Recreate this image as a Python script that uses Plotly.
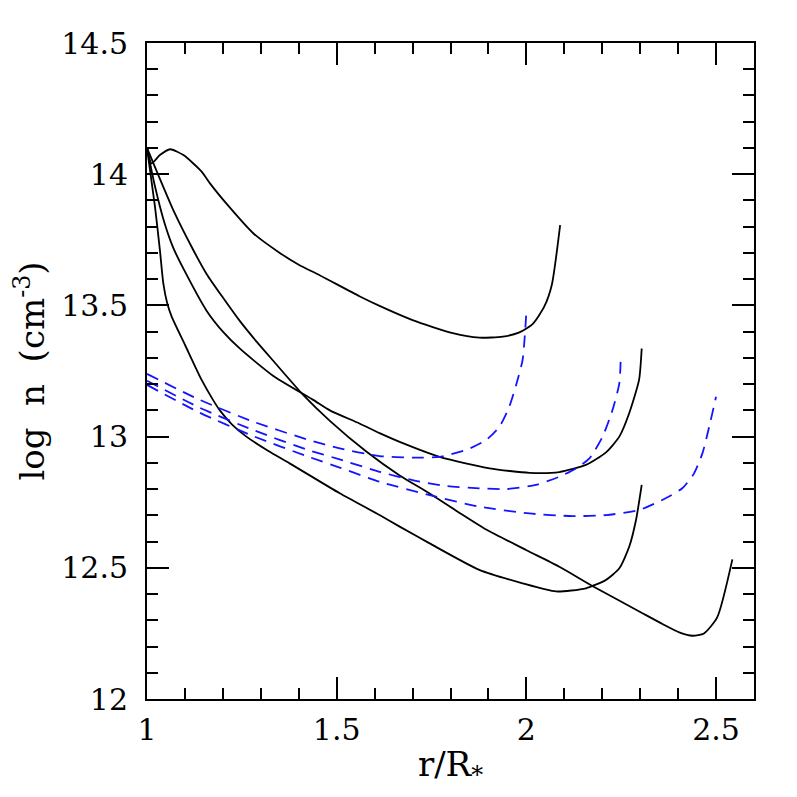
import plotly.graph_objects as go

# solid (black) density profiles
a_x = [1.0, 1.012, 1.034, 1.061, 1.096, 1.144, 1.166, 1.214, 1.28, 1.35, 1.40, 1.455, 1.56, 1.613, 1.70,
       1.806, 1.876, 1.938, 1.98, 2.017, 2.047, 2.067, 2.089]
a_y = [14.10, 14.041, 14.073, 14.095, 14.073, 14.01, 13.965, 13.88, 13.775, 13.70, 13.655, 13.615, 13.535,
       13.498, 13.444, 13.394, 13.377, 13.381, 13.396, 13.43, 13.495, 13.578, 13.806]

b_x = [1.0, 1.02, 1.047, 1.069, 1.096, 1.157, 1.20, 1.245, 1.332, 1.438, 1.482, 1.56, 1.613, 1.666, 1.771,
       1.903, 2.008, 2.087, 2.157, 2.21, 2.245, 2.271, 2.297, 2.304]
b_y = [14.10, 13.96, 13.81, 13.72, 13.64, 13.48, 13.40, 13.335, 13.232, 13.14, 13.10, 13.05, 13.013, 12.98,
       12.923, 12.879, 12.862, 12.865, 12.892, 12.94, 13.0, 13.089, 13.216, 13.336]

c_x = [1.0, 1.069, 1.122, 1.157, 1.20, 1.245, 1.29, 1.332, 1.411, 1.482, 1.578, 1.666, 1.745, 1.82, 1.894,
       1.999, 2.087, 2.175, 2.306, 2.36, 2.403, 2.438, 2.468, 2.503, 2.543]
c_y = [14.10, 13.864, 13.711, 13.62, 13.53, 13.44, 13.36, 13.29, 13.16, 13.06, 12.943, 12.852, 12.783,
       12.713, 12.646, 12.568, 12.504, 12.43, 12.327, 12.285, 12.254, 12.241, 12.25, 12.311, 12.532]

d_x = [1.0, 1.021, 1.034, 1.043, 1.053, 1.065, 1.10, 1.144, 1.174, 1.192, 1.225, 1.262, 1.32, 1.376, 1.508,
       1.613, 1.666, 1.745, 1.876, 1.99, 2.078, 2.157, 2.21, 2.245, 2.271, 2.289, 2.304]
d_y = [14.10, 13.876, 13.711, 13.584, 13.51, 13.457, 13.35, 13.216, 13.14, 13.10, 13.045, 13.0, 12.945,
       12.898, 12.784, 12.701, 12.657, 12.593, 12.492, 12.441, 12.41, 12.422, 12.454, 12.498, 12.58,
       12.682, 12.816]

# dashed (blue) profiles
e_x = [1.0, 1.139, 1.28, 1.42, 1.508, 1.613, 1.70, 1.771, 1.841, 1.894, 1.929, 1.955, 1.973, 1.99, 2.0]
e_y = [13.239, 13.14, 13.057, 12.99, 12.955, 12.926, 12.92, 12.923, 12.949, 12.987, 13.038, 13.114,
       13.197, 13.292, 13.476]

f_x = [1.0, 1.139, 1.28, 1.42, 1.508, 1.613, 1.70, 1.788, 1.876, 1.947, 2.025, 2.087, 2.131, 2.166,
       2.201, 2.227, 2.245, 2.249]
f_y = [13.213, 13.11, 13.025, 12.951, 12.913, 12.866, 12.834, 12.812, 12.803, 12.80, 12.816, 12.847,
       12.879, 12.917, 13.0, 13.101, 13.203, 13.311]

g_x = [1.0, 1.139, 1.28, 1.42, 1.508, 1.613, 1.745, 1.876, 2.008, 2.122, 2.21, 2.297, 2.367, 2.411,
       2.442, 2.464, 2.482, 2.50]
g_y = [13.197, 13.091, 13.002, 12.926, 12.882, 12.828, 12.777, 12.733, 12.707, 12.697, 12.701, 12.72,
       12.765, 12.803, 12.86, 12.936, 13.038, 13.152]

x_ticks = [1, 1.5, 2, 2.5]
y_ticks = [12, 12.5, 13, 13.5, 14, 14.5]

FONT = "DejaVu Serif"
TICK_FONT = dict(family=FONT, size=30, color="black")
TITLE_FONT = dict(family=FONT, size=34, color="black")

fig = go.Figure()
for xs, ys in [(a_x, a_y), (b_x, b_y), (c_x, c_y), (d_x, d_y)]:
    fig.add_trace(go.Scatter(x=xs, y=ys, mode="lines",
                             line=dict(color="black", width=1.8, shape="spline", smoothing=0.6)))
for xs, ys in [(e_x, e_y), (f_x, f_y), (g_x, g_y)]:
    fig.add_trace(go.Scatter(x=xs, y=ys, mode="lines",
                             line=dict(color="#1414ff", width=1.8, dash="12px,8px",
                                       shape="spline", smoothing=0.6)))

axis_common = dict(
    showgrid=False, zeroline=False, automargin=False,
    showline=True, linecolor="black", linewidth=2, mirror="allticks",
    ticks="inside", ticklen=22, tickwidth=1.5, tickcolor="black",
    tickfont=TICK_FONT,
    minor=dict(ticks="inside", ticklen=11, tickwidth=1.5, tickcolor="black", dtick=0.1, showgrid=False),
)

# page body adds ~8px offset, margins below compensate
fig.update_layout(
    width=797, height=797,
    margin=dict(l=139, r=51, t=35, b=106),
    paper_bgcolor="white", plot_bgcolor="white",
    showlegend=False,
    xaxis=dict(axis_common, range=[1, 2.6], tickvals=x_ticks, ticktext=[str(v) for v in x_ticks],
               ticklabelstandoff=3,
               title=dict(text="r/R<sub>*</sub>", font=TITLE_FONT, standoff=6)),
    yaxis=dict(axis_common, range=[12, 14.5], tickvals=y_ticks, ticktext=[str(v) for v in y_ticks],
               ticklabelstandoff=11,
               title=dict(text="log\u00a0\u00a0n\u00a0\u00a0(cm<sup>-3</sup>)", font=TITLE_FONT,
                          standoff=8)),
)

fig.write_html("out.html")
